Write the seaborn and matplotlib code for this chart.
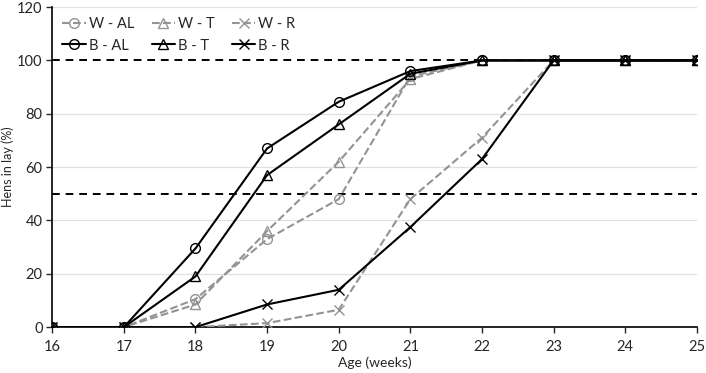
import numpy as np
import pandas as pd
import matplotlib
matplotlib.use("Agg")
import matplotlib.pyplot as plt
import seaborn as sns

weeks = [16, 17, 18, 19, 20, 21, 22, 23, 24, 25]
w_al = [0, 0, 10.5, 33, 48, 94, 100, 100, 100, 100]
w_t = [0, 0, 8.5, 36, 62, 93, 100, 100, 100, 100]
w_r = [0, 0, 0, 1.5, 6.5, 48, 71, 100, 100, 100]
b_al = [0, 0, 29.5, 67, 84.5, 96, 100, 100, 100, 100]
b_t = [0, 0, 19, 57, 76, 95, 100, 100, 100, 100]
b_r = [0, 0, 0, 8.5, 14, 37.5, 63, 100, 100, 100]

series = {
    "W - AL": w_al, "W - T": w_t, "W - R": w_r,
    "B - AL": b_al, "B - T": b_t, "B - R": b_r,
}
df = pd.DataFrame(
    [(wk, name, v) for name, vals in series.items() for wk, v in zip(weeks, vals)],
    columns=["week", "group", "value"],
)

sns.set_style("white")
plt.rcParams["font.family"] = ["Lato", "DejaVu Sans"]

gray = "#939393"
styles = {
    "W - AL": (gray, "--", "o"), "W - T": (gray, "--", "^"), "W - R": (gray, "--", "x"),
    "B - AL": ("black", "-", "o"), "B - T": ("black", "-", "^"), "B - R": ("black", "-", "x"),
}

fig = plt.figure(figsize=(7.06, 3.73), dpi=100)
ax = fig.add_axes([0.074, 0.123, 0.913, 0.858])

for y in [20, 40, 60, 80, 120]:
    ax.axhline(y, color="#e0e0e0", lw=0.9, zorder=0)
for y in [50, 100]:
    ax.axhline(y, color="black", lw=1.4, ls=(0, (4, 3)), zorder=1)

for name in series:
    c, ls, m = styles[name]
    sub = df[df["group"] == name]
    sns.lineplot(data=sub, x="week", y="value", ax=ax, color=c, linestyle=ls,
                 lw=1.5, marker=m, markersize=7, markerfacecolor="none",
                 markeredgecolor=c, markeredgewidth=1.0, label=name, zorder=3)

h, l = ax.get_legend_handles_labels()
lookup = dict(zip(l, h))
order = ["W - AL", "B - AL", "W - T", "B - T", "W - R", "B - R"]
ax.legend([lookup[k] for k in order], order, ncol=3, loc="upper left",
          frameon=False, fontsize=10.5, handlelength=1.6, handletextpad=0.2,
          columnspacing=1.2, labelspacing=0.5, borderaxespad=0.3,
          bbox_to_anchor=(0.0, 1.0))

ax.set_xlim(16, 25)
ax.set_ylim(0, 120)
ax.set_xticks(range(16, 26))
ax.set_yticks(range(0, 121, 20))
ax.tick_params(axis="both", labelsize=10.5, length=4, direction="out", width=1)
ax.tick_params(axis="x", bottom=True, pad=5)
ax.tick_params(axis="y", left=True, pad=3)
ax.set_xlabel("Age (weeks)", fontsize=10, labelpad=2)
ax.set_ylabel("Hens in lay (%)", fontsize=9, labelpad=2)
for s in ["top", "right"]:
    ax.spines[s].set_visible(False)
for s in ["left", "bottom"]:
    ax.spines[s].set_color("black")
    ax.spines[s].set_linewidth(1.2)

fig.savefig("out.png", dpi=100)
